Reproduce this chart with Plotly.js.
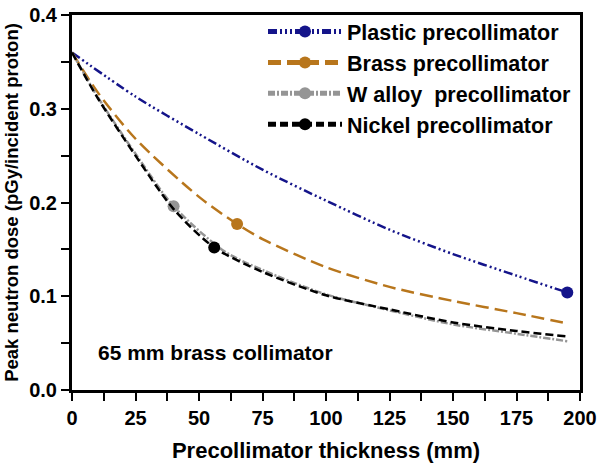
<!DOCTYPE html>
<html>
<head>
<meta charset="utf-8">
<script src="https://cdn.plot.ly/plotly-3.0.1.min.js"></script>
<style>html,body{margin:0;padding:0;background:#fff;}#chart{width:602px;height:467px;}</style>
</head>
<body>
<div id="chart"></div>
<script>
// Series names
const seriesNames = ["Plastic precollimator", "Brass precollimator", "W alloy\u00a0 precollimator", "Nickel precollimator"];

// Plastic
const plasticX = [0, 25, 50, 75, 100, 125, 150, 175, 195];
const plasticY = [0.36, 0.313, 0.273, 0.235, 0.202, 0.171, 0.145, 0.122, 0.104];
const plasticMarkerX = 195;

// Brass
const brassX = [0, 10, 25, 50, 65, 75, 100, 125, 150, 175, 195];
const brassY = [0.36, 0.318, 0.268, 0.206, 0.177, 0.161, 0.131, 0.110, 0.095, 0.082, 0.071];
const brassMarkerX = 65;

// W alloy
const walloyX = [0, 10, 25, 40, 60, 75, 100, 125, 150, 175, 195];
const walloyY = [0.36, 0.313, 0.252, 0.196, 0.148, 0.128, 0.102, 0.085, 0.070, 0.060, 0.052];
const walloyMarkerX = 40;

// Nickel
const nickelX = [0, 10, 25, 40, 56, 75, 100, 125, 150, 175, 195];
const nickelY = [0.36, 0.312, 0.250, 0.193, 0.152, 0.126, 0.101, 0.086, 0.072, 0.063, 0.057];
const nickelMarkerX = 56;

const xTicks = [0, 25, 50, 75, 100, 125, 150, 175, 200];
const yTicks = [0.0, 0.1, 0.2, 0.3, 0.4];
const yTickText = ["0.0", "0.1", "0.2", "0.3", "0.4"];

const FONT = "Liberation Sans, Arial, Helvetica, sans-serif";

function sizes(xs, mx) { return xs.map(v => v === mx ? 12 : 0); }

function mk(name, xs, ys, mx, color, dash, width, group) {
  return {
    type: "scatter", mode: "lines+markers", name: name, x: xs, y: ys,
    legendgroup: group,
    line: {color: color, width: width, dash: dash, shape: "spline", smoothing: 0.8},
    marker: {color: color, size: sizes(xs, mx), symbol: "circle", opacity: 1, line: {width: 0}},
    hoverinfo: "skip"
  };
}

const data = [
  mk(seriesNames[0], plasticX, plasticY, plasticMarkerX, "#14148a", "9px,3px,2px,3px,2px,3px,2px,3px", 2.5, "a"),
  mk(seriesNames[1], brassX, brassY, brassMarkerX, "#b8761c", "13px,6px", 2.5, "b"),
  mk(seriesNames[2], walloyX, walloyY, walloyMarkerX, "#959595", "7px,2px,2px,2px", 2.5, "c"),
  mk(seriesNames[3], nickelX, nickelY, nickelMarkerX, "#000000", "8px,4px", 2.5, "d")
];

const layout = {
  width: 602, height: 467,
  margin: {l: 72, r: 22, t: 13.5, b: 77},
  paper_bgcolor: "#fff", plot_bgcolor: "#fff",
  font: {family: FONT, size: 15, color: "#000"},
  showlegend: true,
  legend: {
    x: 0.376, y: 1.008, xanchor: "left", yanchor: "top",
    bgcolor: "rgba(0,0,0,0)", borderwidth: 0,
    font: {family: FONT, size: 21.5, color: "#000", weight: "bold"},
    itemsizing: "constant", itemwidth: 74,
    traceorder: "grouped", tracegroupgap: 0
  },
  xaxis: {
    range: [0, 200], tickvals: xTicks, ticktext: xTicks.map(String),
    ticks: "outside", ticklen: 8, tickwidth: 2, tickcolor: "#000",
    showline: true, linewidth: 3, linecolor: "#000", mirror: true,
    showgrid: false, zeroline: false,
    tickfont: {family: FONT, size: 20, weight: "bold"},
    minor: {dtick: 12.5, ticks: "outside", ticklen: 8, tickwidth: 2, tickcolor: "#000", showgrid: false},
    title: {text: "Precollimator thickness (mm)", font: {family: FONT, size: 22, weight: "bold"}, standoff: 15}
  },
  yaxis: {
    range: [0, 0.4], tickvals: yTicks, ticktext: yTickText,
    ticks: "outside", ticklen: 8, tickwidth: 2, tickcolor: "#000",
    showline: true, linewidth: 3, linecolor: "#000", mirror: true,
    showgrid: false, zeroline: false,
    tickfont: {family: FONT, size: 20, weight: "bold"},
    minor: {dtick: 0.05, ticks: "outside", ticklen: 8, tickwidth: 2, tickcolor: "#000", showgrid: false},
    title: {text: "Peak neutron dose (pGy/incident proton)", font: {family: FONT, size: 18.5, weight: "bold"}, standoff: 6}
  },
  annotations: [{
    text: "65 mm brass collimator", x: 9.5, y: 0.04, xref: "x", yref: "y",
    xanchor: "left", yanchor: "middle", showarrow: false,
    font: {family: FONT, size: 21, weight: "bold", color: "#000"}
  }]
};

Plotly.newPlot("chart", data, layout, {displayModeBar: false, staticPlot: true});
</script>
</body>
</html>
